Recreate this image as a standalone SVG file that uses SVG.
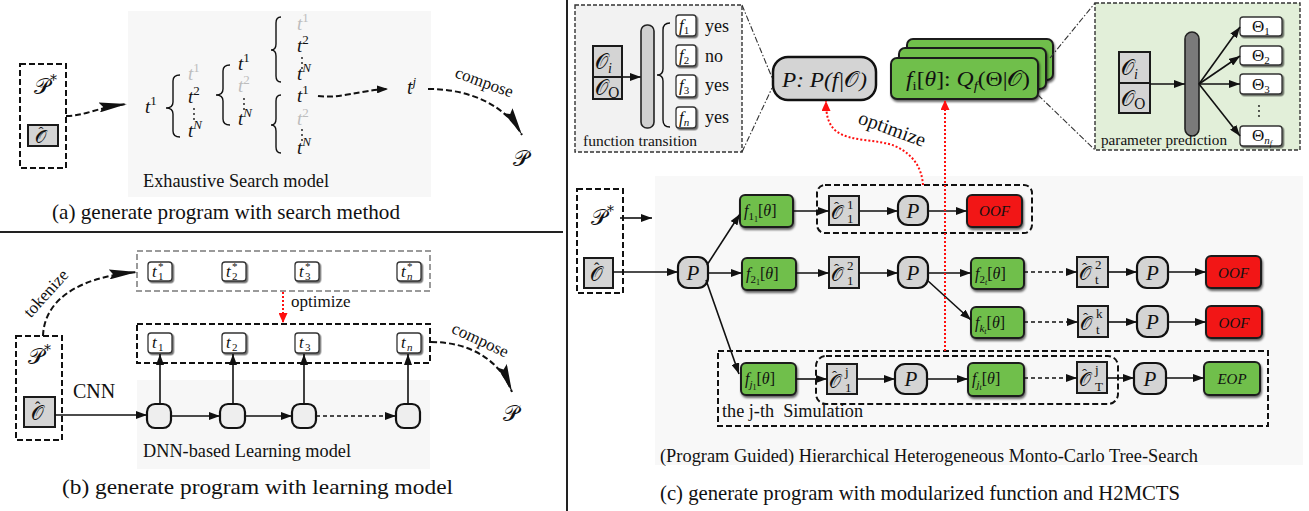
<svg xmlns="http://www.w3.org/2000/svg" width="1309" height="511" viewBox="0 0 1309 511">
<defs>
<style>
text{font-family:"Liberation Serif","Times New Roman",serif;fill:#111}
.m{font-style:italic}
.s{font-family:"DejaVu Serif","DejaVu Sans","Noto Sans",serif;font-style:normal}
.n{font-style:normal}
.h{font-family:"Liberation Serif",serif;font-style:normal}
.gy{fill:#bdbdbd}
.bg{fill:#f7f7f7}
.ln{stroke:#111;stroke-width:1.6;fill:none}
.dl{stroke:#111;stroke-width:1.6;fill:none;stroke-dasharray:4 3}
.dsh{stroke:#111;stroke-width:2;fill:none;stroke-dasharray:6 3}
.dshg{stroke:#9a9a9a;stroke-width:2;fill:none;stroke-dasharray:6 3}
.dd{stroke:#333;stroke-width:1.1;fill:none;stroke-dasharray:6 2 1.5 2}
.gbox{fill:#d4d4d4;stroke:#1a1a1a;stroke-width:2}
.pn{fill:#d4d4d4;stroke:#111;stroke-width:2.2}
.gr{fill:#70bf4c;stroke:#1e1e1e;stroke-width:2;filter:url(#sh)}
.rd{fill:#f21515;stroke:#1e1e1e;stroke-width:2;filter:url(#sh)}
.tok{fill:#fff;stroke:#333;stroke-width:1.3;filter:url(#sh2)}
.red{stroke:#ff1010;stroke-width:2;fill:none;stroke-dasharray:2 2}
.brace{stroke:#111;stroke-width:1.4;fill:none}
.cap{font-size:21px}
.lab{font-size:18px}
</style>
<filter id="sh" x="-10%" y="-10%" width="130%" height="150%"><feDropShadow dx="1" dy="2" stdDeviation="1" flood-color="#000" flood-opacity="0.6"/></filter>
<filter id="sh2" x="-20%" y="-20%" width="150%" height="150%"><feDropShadow dx="1.5" dy="1.5" stdDeviation="0.6" flood-color="#000" flood-opacity="0.55"/></filter>
<marker id="a" markerWidth="11" markerHeight="8" refX="11" refY="4" orient="auto" markerUnits="userSpaceOnUse"><path d="M0,0L11,4L0,8z" fill="#111"/></marker>
<marker id="big" markerWidth="28" markerHeight="10" refX="28" refY="5" orient="auto" markerUnits="userSpaceOnUse"><path d="M0,0L28,5L0,10L4,5z" fill="#111"/></marker>
<marker id="r" markerWidth="10" markerHeight="9" refX="10" refY="4.5" orient="auto" markerUnits="userSpaceOnUse"><path d="M0,0L10,4.5L0,9z" fill="#ff1010"/></marker>
</defs>

<!-- separators -->
<line x1="0" y1="232" x2="563" y2="232" stroke="#222" stroke-width="2"/>
<line x1="567" y1="0" x2="567" y2="511" stroke="#222" stroke-width="2"/>

<!-- ================= Panel (a) ================= -->
<g id="panel-a">
<rect class="bg" x="128" y="11" width="303" height="186"/>
<g id="a-input">
<rect class="dsh" x="20" y="64" width="46" height="104"/>
<text class="s" x="34" y="94" font-size="22">𝒫<tspan font-size="14" dy="-9">*</tspan></text>
<rect class="gbox" x="28" y="125" width="30" height="21"/>
<text class="s" x="35" y="143" font-size="18">𝒪<tspan class="h" font-size="15" x="38.5" y="137">ˆ</tspan></text>
</g>
<g id="a-tree" font-size="19">
<text class="m" x="145" y="113">t<tspan class="n" font-size="13" dy="-8">1</tspan></text>
<path class="brace" d="M180,75 Q173,75 173,81 L173,102 Q173,108 166,108 Q173,108 173,114 L173,131 Q173,137 180,137"/>
<text class="m gy" x="188" y="80">t<tspan class="n gy" font-size="13" dy="-8">1</tspan></text>
<text class="m" x="188" y="103">t<tspan class="n" font-size="13" dy="-8">2</tspan></text>
<text class="m" x="188" y="137">t<tspan font-size="13" dy="-8">N</tspan></text>
<path class="brace" d="M230,65 Q223,65 223,71 L223,89 Q223,95 216,95 Q223,95 223,101 L223,119 Q223,125 230,125"/>
<text class="m" x="238" y="70">t<tspan class="n" font-size="13" dy="-8">1</tspan></text>
<text class="m gy" x="238" y="92">t<tspan class="n gy" font-size="13" dy="-8">2</tspan></text>
<text class="m" x="238" y="125">t<tspan font-size="13" dy="-8">N</tspan></text>
<path class="brace" d="M281,17 Q276,17 276,23 L276,44 Q276,50 271,50 Q276,50 276,56 L276,76 Q276,82 281,82"/>
<text class="m gy" x="297" y="30">t<tspan class="n gy" font-size="13" dy="-8">1</tspan></text>
<text class="m" x="297" y="52">t<tspan class="n" font-size="13" dy="-8">2</tspan></text>
<text class="m" x="297" y="80">t<tspan font-size="13" dy="-8">N</tspan></text>
<path class="brace" d="M281,95 Q276,95 276,101 L276,119 Q276,125 271,125 Q276,125 276,131 L276,147 Q276,153 281,153"/>
<text class="m" x="297" y="102">t<tspan class="n" font-size="13" dy="-8">1</tspan></text>
<text class="m gy" x="297" y="125">t<tspan class="n gy" font-size="13" dy="-8">2</tspan></text>
<text class="m" x="297" y="154">t<tspan font-size="13" dy="-8">N</tspan></text>
<g fill="#111">
<circle cx="194" cy="109" r="0.9"/><circle cx="194" cy="114" r="0.9"/><circle cx="194" cy="119" r="0.9"/>
<circle cx="244" cy="99" r="0.9"/><circle cx="244" cy="104" r="0.9"/><circle cx="244" cy="109" r="0.9"/>
<circle cx="302" cy="58" r="0.9"/><circle cx="302" cy="63" r="0.9"/><circle cx="302" cy="68" r="0.9"/>
<circle cx="302" cy="130" r="0.9"/><circle cx="302" cy="135" r="0.9"/><circle cx="302" cy="140" r="0.9"/>
</g>
</g>
<g id="a-tj"><text class="m" x="407" y="94" font-size="20">t<tspan font-size="13" dy="-8">j</tspan></text></g>
<g id="a-P"><text class="s" x="513" y="166" font-size="22">𝒫</text></g>
<g id="a-connectors">
<path class="dsh" d="M66,116 C 85,116 95,108 127,104" marker-end="url(#big)"/>
<path class="dsh" d="M318,96 C 340,99 360,90 388,89" marker-end="url(#a)"/>
<path class="dsh" d="M428,89 C 470,89 505,105 522,135" marker-end="url(#big)"/>
<text x="454" y="77" font-size="17" transform="rotate(20 454 77)">compose</text>
</g>
<text class="lab" x="143" y="187" textLength="186" lengthAdjust="spacingAndGlyphs">Exhaustive Search model</text>
<text class="cap" x="52" y="219" textLength="348" lengthAdjust="spacingAndGlyphs">(a) generate program with search method</text>
</g>

<!-- ================= Panel (b) ================= -->
<g id="panel-b">
<rect class="bg" x="137" y="380" width="293" height="89"/>
<rect class="dshg" x="137" y="251" width="293" height="40"/>
<rect class="dsh" x="137" y="324" width="293" height="39"/>
<g id="b-input">
<rect class="dsh" x="16" y="336" width="46" height="104"/>
<text class="s" x="28" y="364" font-size="22">𝒫<tspan font-size="14" dy="-9">*</tspan></text>
<rect class="gbox" x="24" y="397" width="31" height="30"/>
<text class="s" x="31" y="420" font-size="20">𝒪<tspan class="h" font-size="16" x="35" y="413">ˆ</tspan></text>
</g>
<g id="b-ts1"><rect class="tok" x="148" y="262" width="24" height="19" rx="3"/><text class="m" font-size="17"><tspan x="152" y="277">t</tspan><tspan class="n" font-size="11" x="158" y="270">*</tspan><tspan class="n" font-size="11" x="158" y="280">1</tspan></text></g>
<g id="b-ts2"><rect class="tok" x="222" y="262" width="24" height="19" rx="3"/><text class="m" font-size="17"><tspan x="226" y="277">t</tspan><tspan class="n" font-size="11" x="232" y="270">*</tspan><tspan class="n" font-size="11" x="232" y="280">2</tspan></text></g>
<g id="b-ts3"><rect class="tok" x="295" y="262" width="24" height="19" rx="3"/><text class="m" font-size="17"><tspan x="299" y="277">t</tspan><tspan class="n" font-size="11" x="305" y="270">*</tspan><tspan class="n" font-size="11" x="305" y="280">3</tspan></text></g>
<g id="b-tsn"><rect class="tok" x="397" y="262" width="24" height="19" rx="3"/><text class="m" font-size="17"><tspan x="401" y="277">t</tspan><tspan class="n" font-size="11" x="407" y="270">*</tspan><tspan font-size="11" x="407" y="280">n</tspan></text></g>
<g id="b-t1"><rect class="tok" x="148" y="333" width="24" height="20" rx="3"/><text class="m" font-size="17"><tspan x="152" y="348">t</tspan><tspan class="n" font-size="11" x="158" y="351">1</tspan></text></g>
<g id="b-t2"><rect class="tok" x="222" y="333" width="24" height="20" rx="3"/><text class="m" font-size="17"><tspan x="226" y="348">t</tspan><tspan class="n" font-size="11" x="232" y="351">2</tspan></text></g>
<g id="b-t3"><rect class="tok" x="295" y="333" width="24" height="20" rx="3"/><text class="m" font-size="17"><tspan x="299" y="348">t</tspan><tspan class="n" font-size="11" x="305" y="351">3</tspan></text></g>
<g id="b-tn"><rect class="tok" x="397" y="333" width="24" height="20" rx="3"/><text class="m" font-size="17"><tspan x="401" y="348">t</tspan><tspan font-size="11" x="407" y="351">n</tspan></text></g>
<g id="b-c1"><rect x="147" y="404" width="24" height="24" rx="8" fill="#eeeeee" stroke="#111" stroke-width="2.2"/></g>
<g id="b-c2"><rect x="220" y="404" width="25" height="24" rx="8" fill="#eeeeee" stroke="#111" stroke-width="2.2"/></g>
<g id="b-c3"><rect x="292" y="404" width="24" height="24" rx="8" fill="#eeeeee" stroke="#111" stroke-width="2.2"/></g>
<g id="b-c4"><rect x="396" y="404" width="24" height="24" rx="8" fill="#eeeeee" stroke="#111" stroke-width="2.2"/></g>
<g id="b-P"><text class="s" x="503" y="421" font-size="22">𝒫</text></g>
<g id="b-connectors">
<path class="dsh" d="M43,336 C 44,305 70,278 137,272" marker-end="url(#big)"/>
<text x="50" y="297" font-size="17" text-anchor="middle" transform="rotate(-48 50 297)">tokenize</text>
<line class="ln" x1="55" y1="415" x2="147" y2="415" marker-end="url(#a)"/>
<text x="73" y="398" font-size="20">CNN</text>
<line class="ln" x1="171" y1="416" x2="220" y2="416" marker-end="url(#a)"/>
<line class="ln" x1="245" y1="416" x2="292" y2="416" marker-end="url(#a)"/>
<line class="dl" x1="316" y1="416" x2="396" y2="416" marker-end="url(#a)"/>
<line class="ln" x1="160" y1="404" x2="160" y2="354" marker-end="url(#a)"/>
<line class="ln" x1="233" y1="404" x2="233" y2="354" marker-end="url(#a)"/>
<line class="ln" x1="304" y1="404" x2="304" y2="354" marker-end="url(#a)"/>
<line class="ln" x1="408" y1="404" x2="408" y2="354" marker-end="url(#a)"/>
<line class="red" x1="283" y1="292" x2="283" y2="323" marker-end="url(#r)"/>
<text x="291" y="307" font-size="17">optimize</text>
<path class="dsh" d="M431,342 C 470,342 500,360 512,392" marker-end="url(#big)"/>
<text x="478" y="345" font-size="17" text-anchor="middle" transform="rotate(25 478 345)">compose</text>
</g>
<text class="lab" x="143" y="457" textLength="208" lengthAdjust="spacingAndGlyphs">DNN-based Learning model</text>
<text class="cap" x="62" y="494" textLength="391" lengthAdjust="spacingAndGlyphs">(b) generate program with learning model</text>
</g>

<!-- ================= Panel (c) top ================= -->
<g id="c-function-transition">
<rect x="575" y="5" width="167" height="147" fill="#f2f2f2" stroke="#333" stroke-width="1.4" stroke-dasharray="4 2"/>
<rect class="gbox" x="593" y="46" width="29" height="31"/>
<rect class="gbox" x="593" y="77" width="29" height="22"/>
<text class="s" x="595" y="69" font-size="21">𝒪<tspan class="m" font-family="Liberation Serif" font-size="14" dy="4">i</tspan></text>
<text class="s" x="595" y="95" font-size="21">𝒪<tspan font-size="14" dy="3">O</tspan></text>
<line class="ln" x1="622" y1="77" x2="641" y2="77" marker-end="url(#a)"/>
<rect x="641" y="25" width="13" height="103" rx="6" fill="#d0d0d0" stroke="#222" stroke-width="1.6"/>
<path class="brace" d="M670,23 Q663,23 663,30 L663,69 Q663,75 657,75 Q663,75 663,81 L663,120 Q663,127 670,127"/>
<rect class="tok" x="676" y="15" width="20" height="21" rx="3"/>
<rect class="tok" x="676" y="45" width="20" height="21" rx="3"/>
<rect class="tok" x="676" y="75" width="20" height="22" rx="3"/>
<rect class="tok" x="676" y="107" width="20" height="21" rx="3"/>
<text class="m" x="679" y="31" font-size="17">f<tspan class="n" font-size="11" dy="3">1</tspan></text>
<text class="m" x="679" y="61" font-size="17">f<tspan class="n" font-size="11" dy="3">2</tspan></text>
<text class="m" x="679" y="91" font-size="17">f<tspan class="n" font-size="11" dy="3">3</tspan></text>
<text class="m" x="679" y="123" font-size="17">f<tspan font-size="11" dy="3">n</tspan></text>
<text x="705" y="32" font-size="18">yes</text>
<text x="705" y="62" font-size="18">no</text>
<text x="705" y="91" font-size="18">yes</text>
<text x="705" y="123" font-size="18">yes</text>
<text x="583" y="146" font-size="15.5" textLength="114" lengthAdjust="spacingAndGlyphs">function transition</text>
</g>
<g id="c-policy">
<rect x="773" y="57" width="103" height="43" rx="15" fill="#d4d4d4" stroke="#111" stroke-width="2.5"/>
<text class="m" x="782" y="87" font-size="22" textLength="85" lengthAdjust="spacingAndGlyphs">P: P(f|<tspan class="s">𝒪</tspan>)</text>
</g>
<g id="c-fstack">
<rect class="gr" x="907" y="39" width="146" height="41" rx="6"/>
<rect class="gr" x="899" y="48" width="147" height="41" rx="6"/>
<rect class="gr" x="891" y="58" width="147" height="41" rx="6"/>
<text class="m" x="906" y="86" font-size="21" textLength="124" lengthAdjust="spacingAndGlyphs">f<tspan class="n" font-size="13" dy="4">i</tspan><tspan class="n" dy="-4">[</tspan>θ<tspan class="n">]: </tspan>Q<tspan font-size="13" dy="4">f</tspan><tspan class="n" dy="-4">(Θ|</tspan><tspan class="s">𝒪</tspan><tspan class="n">)</tspan></text>
</g>
<g id="c-parameter-prediction">
<rect x="1095" y="3" width="205" height="147" fill="#e2efd9" stroke="#333" stroke-width="1.4" stroke-dasharray="4 2"/>
<rect class="gbox" x="1119" y="52" width="31" height="31"/>
<rect class="gbox" x="1119" y="83" width="31" height="30"/>
<text class="s" x="1121" y="75" font-size="21">𝒪<tspan class="m" font-family="Liberation Serif" font-size="14" dy="4">i</tspan></text>
<text class="s" x="1121" y="106" font-size="21">𝒪<tspan font-size="14" dy="3">O</tspan></text>
<rect x="1185" y="32" width="14" height="104" rx="7" fill="#7a7a7a" stroke="#222" stroke-width="1.6"/>
<rect class="tok" x="1240" y="17" width="42" height="19" rx="3"/>
<rect class="tok" x="1240" y="46" width="42" height="19" rx="3"/>
<rect class="tok" x="1240" y="74" width="42" height="20" rx="3"/>
<rect class="tok" x="1240" y="126" width="42" height="20" rx="3"/>
<text x="1252" y="32" font-size="17">Θ<tspan font-size="11" dy="3">1</tspan></text>
<text x="1252" y="61" font-size="17">Θ<tspan font-size="11" dy="3">2</tspan></text>
<text x="1252" y="90" font-size="17">Θ<tspan font-size="11" dy="3">3</tspan></text>
<text x="1252" y="141" font-size="17">Θ<tspan class="m" font-size="11" dy="3">n</tspan><tspan class="m" font-size="8" dy="2">f</tspan></text>
<g fill="#111"><circle cx="1259" cy="106" r="0.9"/><circle cx="1259" cy="111" r="0.9"/><circle cx="1259" cy="116" r="0.9"/></g>
<text x="1101" y="145" font-size="15.5" textLength="126" lengthAdjust="spacingAndGlyphs">parameter prediction</text>
</g>

<!-- ================= Panel (c) main ================= -->
<rect x="655" y="176" width="648" height="289" fill="#f8f8f8"/>
<g id="c-input">
<rect class="dsh" x="577" y="189" width="46" height="104"/>
<text class="s" x="591" y="225" font-size="22">𝒫<tspan font-size="14" dy="-9">*</tspan></text>
<rect class="gbox" x="584" y="258" width="29" height="30"/>
<text class="s" x="590" y="281" font-size="20">𝒪<tspan class="h" font-size="16" x="594" y="274">ˆ</tspan></text>
</g>
<g id="c-P0"><rect class="pn" x="678" y="257" width="30" height="31" rx="10"/><text class="m" x="693" y="280" font-size="21" text-anchor="middle">P</text></g>

<!-- row 1 -->
<g id="c-f11"><rect class="gr" x="740" y="195" width="53" height="32" rx="5"/><text class="m" x="744" y="216" font-size="16">f<tspan class="n" font-size="11" dy="4">1</tspan><tspan class="n" font-size="8" dy="2">1</tspan><tspan class="n" dy="-6">[</tspan>θ<tspan class="n">]</tspan></text></g>
<rect class="dsh" x="817" y="185" width="215" height="48" rx="8"/>
<g id="c-O11"><rect class="gbox" x="829" y="196" width="30" height="29"/><text class="s" font-size="19"><tspan x="831" y="219">𝒪</tspan><tspan class="h" font-size="15" x="834" y="212">ˆ</tspan><tspan class="h" font-size="13" x="847" y="209">1</tspan><tspan class="h" font-size="13" x="847" y="223">1</tspan></text></g>
<g id="c-P11"><rect class="pn" x="898" y="196" width="30" height="29" rx="10"/><text class="m" x="913" y="218" font-size="21" text-anchor="middle">P</text></g>
<g id="c-OOF1"><rect class="rd" x="967" y="195" width="55" height="32" rx="5"/><text class="m" x="994.5" y="216" font-size="15" text-anchor="middle">OOF</text></g>

<!-- row 2 -->
<g id="c-f21"><rect class="gr" x="742" y="258" width="54" height="32" rx="5"/><text class="m" x="746" y="279" font-size="16">f<tspan class="n" font-size="11" dy="4">2</tspan><tspan class="n" font-size="8" dy="2">1</tspan><tspan class="n" dy="-6">[</tspan>θ<tspan class="n">]</tspan></text></g>
<g id="c-O21"><rect class="gbox" x="829" y="257" width="30" height="31"/><text class="s" font-size="19"><tspan x="831" y="281">𝒪</tspan><tspan class="h" font-size="15" x="834" y="274">ˆ</tspan><tspan class="h" font-size="13" x="847" y="270">2</tspan><tspan class="h" font-size="13" x="847" y="285">1</tspan></text></g>
<g id="c-P21"><rect class="pn" x="898" y="257" width="30" height="31" rx="10"/><text class="m" x="913" y="280" font-size="21" text-anchor="middle">P</text></g>
<g id="c-f2t"><rect class="gr" x="971" y="258" width="53" height="31" rx="5"/><text class="m" x="975" y="279" font-size="16">f<tspan class="n" font-size="11" dy="4">2</tspan><tspan font-size="8" dy="2">t</tspan><tspan class="n" dy="-6">[</tspan>θ<tspan class="n">]</tspan></text></g>
<g id="c-O2t"><rect class="gbox" x="1077" y="257" width="31" height="30"/><text class="s" font-size="19"><tspan x="1079" y="280">𝒪</tspan><tspan class="h" font-size="15" x="1082" y="273">ˆ</tspan><tspan class="h" font-size="13" x="1095" y="269">2</tspan><tspan class="h m" font-size="13" x="1095" y="284">t</tspan></text></g>
<g id="c-P2t"><rect class="pn" x="1137" y="257" width="31" height="31" rx="10"/><text class="m" x="1152.5" y="280" font-size="21" text-anchor="middle">P</text></g>
<g id="c-OOF2"><rect class="rd" x="1206" y="256" width="55" height="32" rx="5"/><text class="m" x="1233.5" y="278" font-size="15" text-anchor="middle">OOF</text></g>

<!-- row 3 -->
<g id="c-fkt"><rect class="gr" x="971" y="307" width="53" height="31" rx="5"/><text class="m" x="975" y="328" font-size="16">f<tspan font-size="11" dy="4">k</tspan><tspan font-size="8" dy="2">t</tspan><tspan class="n" dy="-6">[</tspan>θ<tspan class="n">]</tspan></text></g>
<g id="c-Okt"><rect class="gbox" x="1078" y="306" width="30" height="31"/><text class="s" font-size="19"><tspan x="1080" y="330">𝒪</tspan><tspan class="h" font-size="15" x="1083" y="323">ˆ</tspan><tspan class="h m" font-size="13" x="1096" y="318">k</tspan><tspan class="h m" font-size="13" x="1096" y="334">t</tspan></text></g>
<g id="c-Pkt"><rect class="pn" x="1137" y="306" width="31" height="31" rx="10"/><text class="m" x="1152.5" y="329" font-size="21" text-anchor="middle">P</text></g>
<g id="c-OOF3"><rect class="rd" x="1206" y="306" width="56" height="32" rx="5"/><text class="m" x="1234" y="328" font-size="15" text-anchor="middle">OOF</text></g>

<!-- row 4: j-th simulation -->
<rect class="dsh" x="718" y="351" width="550" height="75"/>
<rect class="dsh" x="816" y="356" width="302" height="48" rx="10"/>
<text x="722" y="417" font-size="18" style="white-space:pre" textLength="141" lengthAdjust="spacingAndGlyphs">the j-th  Simulation</text>
<g id="c-fj1"><rect class="gr" x="741" y="363" width="55" height="32" rx="5"/><text class="m" x="745" y="384" font-size="16">f<tspan font-size="11" dy="4">j</tspan><tspan class="n" font-size="8" dy="2">1</tspan><tspan class="n" dy="-6">[</tspan>θ<tspan class="n">]</tspan></text></g>
<g id="c-Oj1"><rect class="gbox" x="827" y="364" width="30" height="30"/><text class="s" font-size="19"><tspan x="829" y="388">𝒪</tspan><tspan class="h" font-size="15" x="832" y="381">ˆ</tspan><tspan class="h m" font-size="13" x="845" y="376">j</tspan><tspan class="h" font-size="13" x="845" y="392">1</tspan></text></g>
<g id="c-Pj1"><rect class="pn" x="895" y="364" width="32" height="30" rx="10"/><text class="m" x="911" y="386" font-size="21" text-anchor="middle">P</text></g>
<g id="c-fjt"><rect class="gr" x="968" y="363" width="56" height="33" rx="5"/><text class="m" x="972" y="384" font-size="16">f<tspan font-size="11" dy="4">j</tspan><tspan font-size="8" dy="2">t</tspan><tspan class="n" dy="-6">[</tspan>θ<tspan class="n">]</tspan></text></g>
<g id="c-OjT"><rect class="gbox" x="1077" y="362" width="30" height="31"/><text class="s" font-size="19"><tspan x="1079" y="386">𝒪</tspan><tspan class="h" font-size="15" x="1082" y="379">ˆ</tspan><tspan class="h m" font-size="13" x="1095" y="374">j</tspan><tspan class="h m" font-size="13" x="1095" y="391">T</tspan></text></g>
<g id="c-PjT"><rect class="pn" x="1134" y="363" width="32" height="31" rx="10"/><text class="m" x="1150" y="386" font-size="21" text-anchor="middle">P</text></g>
<g id="c-EOP"><rect class="gr" x="1204" y="362" width="56" height="33" rx="5"/><text class="m" x="1232" y="384" font-size="15" text-anchor="middle">EOP</text></g>

<g id="c-connectors">
<line class="dd" x1="742" y1="5" x2="773" y2="80"/>
<line class="dd" x1="742" y1="152" x2="772" y2="88"/>
<line class="dd" x1="1050" y1="58" x2="1095" y2="3"/>
<line class="dd" x1="1038" y1="95" x2="1095" y2="150"/>
<line class="ln" x1="1150" y1="84" x2="1185" y2="84" marker-end="url(#a)"/>
<line class="ln" x1="1199" y1="84" x2="1240" y2="27" marker-end="url(#a)"/>
<line class="ln" x1="1199" y1="84" x2="1240" y2="56" marker-end="url(#a)"/>
<line class="ln" x1="1199" y1="84" x2="1240" y2="84" marker-end="url(#a)"/>
<line class="ln" x1="1199" y1="84" x2="1240" y2="136" marker-end="url(#a)"/>
<line class="ln" x1="620" y1="218" x2="652" y2="218" marker-end="url(#a)"/>
<line class="ln" x1="613" y1="272" x2="678" y2="272" marker-end="url(#a)"/>
<line class="ln" x1="707" y1="265" x2="740" y2="214" marker-end="url(#a)"/>
<line class="ln" x1="708" y1="273" x2="742" y2="273" marker-end="url(#a)"/>
<line class="ln" x1="706" y1="280" x2="739" y2="374" marker-end="url(#a)"/>
<line class="ln" x1="793" y1="211" x2="829" y2="211" marker-end="url(#a)"/>
<line class="ln" x1="859" y1="211" x2="898" y2="211" marker-end="url(#a)"/>
<line class="ln" x1="928" y1="211" x2="967" y2="211" marker-end="url(#a)"/>
<line class="ln" x1="796" y1="273" x2="829" y2="273" marker-end="url(#a)"/>
<line class="ln" x1="859" y1="273" x2="898" y2="273" marker-end="url(#a)"/>
<line class="ln" x1="928" y1="273" x2="971" y2="273" marker-end="url(#a)"/>
<line class="dl" x1="1024" y1="272" x2="1077" y2="272" marker-end="url(#a)"/>
<line class="ln" x1="1108" y1="272" x2="1137" y2="272" marker-end="url(#a)"/>
<line class="ln" x1="1168" y1="272" x2="1206" y2="272" marker-end="url(#a)"/>
<line class="ln" x1="927" y1="280" x2="971" y2="320" marker-end="url(#a)"/>
<line class="dl" x1="1024" y1="322" x2="1078" y2="322" marker-end="url(#a)"/>
<line class="ln" x1="1108" y1="322" x2="1137" y2="322" marker-end="url(#a)"/>
<line class="ln" x1="1168" y1="322" x2="1206" y2="322" marker-end="url(#a)"/>
<line class="ln" x1="796" y1="379" x2="827" y2="379" marker-end="url(#a)"/>
<line class="ln" x1="857" y1="379" x2="895" y2="379" marker-end="url(#a)"/>
<line class="ln" x1="927" y1="379" x2="968" y2="379" marker-end="url(#a)"/>
<line class="dl" x1="1024" y1="378" x2="1077" y2="378" marker-end="url(#a)"/>
<line class="ln" x1="1107" y1="378" x2="1134" y2="378" marker-end="url(#a)"/>
<line class="ln" x1="1166" y1="378" x2="1204" y2="378" marker-end="url(#a)"/>
<line class="red" x1="945" y1="351" x2="945" y2="100" marker-end="url(#r)"/>
<path class="red" d="M923,185 C 922,170 915,155 895,146 C 878,139 850,142 836,131 C 828,124 826,115 826,101" marker-end="url(#r)"/>
<text x="890" y="135" font-size="20" text-anchor="middle" transform="rotate(20 890 135)">optimize</text>
</g>
<text x="660" y="462" font-size="18" textLength="538" lengthAdjust="spacingAndGlyphs">(Program Guided) Hierarchical Heterogeneous Monto-Carlo Tree-Search</text>
<text class="cap" x="660" y="500" textLength="520" lengthAdjust="spacingAndGlyphs">(c) generate program with modularized function and H2MCTS</text>
</svg>
